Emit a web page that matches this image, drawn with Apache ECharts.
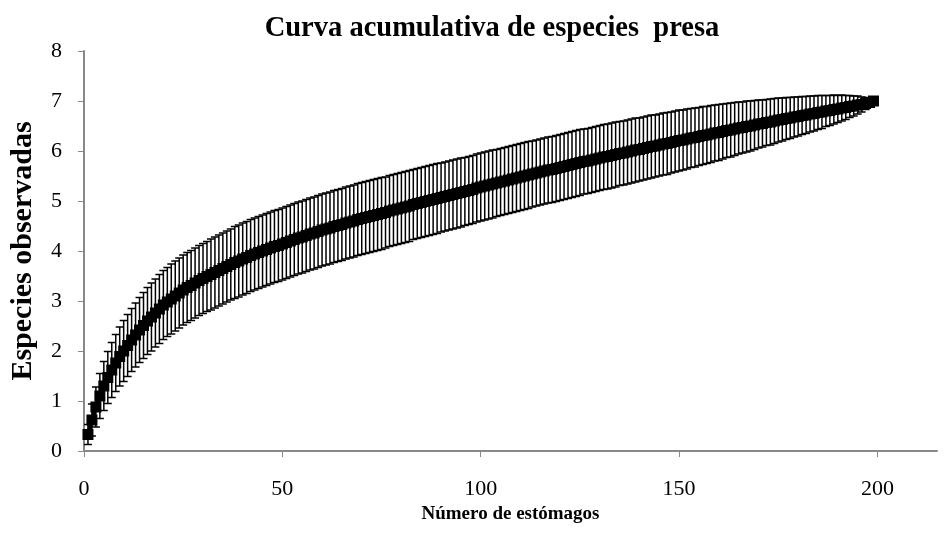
<!DOCTYPE html>
<html>
<head>
<meta charset="utf-8">
<script src="https://cdn.jsdelivr.net/npm/echarts@6/dist/echarts.min.js"></script>
<style>html,body{margin:0;padding:0;background:#fff}#c{width:950px;height:544px}</style>
</head>
<body>
<div id="c"></div>
<script>
// Number of stomachs (x) 1..199
const stomachs = [
  1,2,3,4,5,6,7,8,9,10,11,12,13,14,15,16,17,18,19,20,
  21,22,23,24,25,26,27,28,29,30,31,32,33,34,35,36,37,38,39,40,
  41,42,43,44,45,46,47,48,49,50,51,52,53,54,55,56,57,58,59,60,
  61,62,63,64,65,66,67,68,69,70,71,72,73,74,75,76,77,78,79,80,
  81,82,83,84,85,86,87,88,89,90,91,92,93,94,95,96,97,98,99,100,
  101,102,103,104,105,106,107,108,109,110,111,112,113,114,115,116,117,118,119,120,
  121,122,123,124,125,126,127,128,129,130,131,132,133,134,135,136,137,138,139,140,
  141,142,143,144,145,146,147,148,149,150,151,152,153,154,155,156,157,158,159,160,
  161,162,163,164,165,166,167,168,169,170,171,172,173,174,175,176,177,178,179,180,
  181,182,183,184,185,186,187,188,189,190,191,192,193,194,195,196,197,198,199
];
// Mean observed species
const meanSpecies = [
  0.33,0.62,0.88,1.10,1.30,1.47,1.62,1.76,1.89,2.00,
  2.11,2.22,2.32,2.42,2.51,2.60,2.68,2.76,2.84,2.92,
  2.98,3.04,3.10,3.16,3.22,3.27,3.31,3.36,3.41,3.45,
  3.49,3.53,3.57,3.61,3.65,3.69,3.73,3.77,3.80,3.84,
  3.87,3.91,3.94,3.97,4.00,4.03,4.06,4.09,4.11,4.14,
  4.17,4.20,4.23,4.26,4.28,4.31,4.34,4.36,4.39,4.42,
  4.44,4.46,4.49,4.51,4.53,4.56,4.58,4.60,4.63,4.65,
  4.67,4.69,4.71,4.73,4.75,4.77,4.80,4.82,4.84,4.86,
  4.88,4.90,4.93,4.95,4.97,4.99,5.01,5.03,5.05,5.07,
  5.09,5.11,5.13,5.15,5.17,5.19,5.21,5.23,5.26,5.28,
  5.30,5.32,5.34,5.36,5.38,5.40,5.42,5.44,5.46,5.48,
  5.50,5.52,5.54,5.56,5.58,5.60,5.62,5.63,5.65,5.67,
  5.69,5.71,5.73,5.75,5.77,5.79,5.80,5.82,5.84,5.86,
  5.88,5.89,5.91,5.93,5.95,5.96,5.98,6.00,6.02,6.03,
  6.05,6.07,6.09,6.10,6.12,6.14,6.15,6.17,6.19,6.21,
  6.22,6.24,6.26,6.27,6.29,6.31,6.32,6.34,6.36,6.37,
  6.39,6.41,6.42,6.44,6.46,6.47,6.49,6.50,6.52,6.54,
  6.55,6.57,6.58,6.60,6.62,6.63,6.65,6.66,6.68,6.69,
  6.71,6.72,6.74,6.75,6.77,6.78,6.80,6.81,6.83,6.84,
  6.86,6.87,6.89,6.90,6.92,6.93,6.95,6.97,7.00
];
// Standard deviation (error bar half-length)
const sdSpecies = [
  0.20,0.32,0.40,0.45,0.49,0.52,0.55,0.57,0.59,0.61,
  0.62,0.63,0.64,0.65,0.66,0.67,0.68,0.68,0.69,0.69,
  0.69,0.70,0.70,0.70,0.70,0.70,0.70,0.70,0.70,0.70,
  0.70,0.71,0.71,0.71,0.71,0.71,0.71,0.72,0.72,0.72,
  0.72,0.72,0.72,0.72,0.72,0.72,0.72,0.72,0.72,0.72,
  0.72,0.72,0.72,0.72,0.72,0.72,0.72,0.72,0.72,0.72,
  0.72,0.72,0.72,0.72,0.72,0.72,0.72,0.72,0.72,0.72,
  0.72,0.72,0.72,0.72,0.72,0.71,0.71,0.71,0.71,0.71,
  0.71,0.71,0.70,0.70,0.70,0.70,0.70,0.70,0.70,0.69,
  0.69,0.69,0.69,0.69,0.69,0.68,0.68,0.68,0.68,0.68,
  0.68,0.68,0.68,0.67,0.67,0.67,0.67,0.67,0.67,0.67,
  0.67,0.67,0.66,0.66,0.66,0.66,0.66,0.66,0.66,0.66,
  0.66,0.66,0.66,0.66,0.66,0.65,0.65,0.65,0.65,0.65,
  0.65,0.65,0.65,0.65,0.64,0.64,0.64,0.64,0.64,0.63,
  0.63,0.63,0.63,0.62,0.62,0.62,0.62,0.61,0.61,0.61,
  0.60,0.60,0.59,0.59,0.58,0.58,0.57,0.57,0.56,0.56,
  0.55,0.54,0.54,0.53,0.52,0.51,0.51,0.50,0.49,0.48,
  0.47,0.46,0.46,0.45,0.44,0.43,0.42,0.41,0.40,0.39,
  0.38,0.37,0.36,0.35,0.34,0.33,0.31,0.30,0.29,0.27,
  0.26,0.24,0.22,0.20,0.18,0.15,0.12,0.08,0.00
];
const xTicks = [0, 50, 100, 150, 200];

const titleText = 'Curva acumulativa de especies  presa';
const xName = 'Número de estómagos';
const yName = 'Especies observadas';

const meanData = stomachs.map((x, i) => [x, meanSpecies[i]]);
const errData = stomachs.map((x, i) => [x, meanSpecies[i] - sdSpecies[i], meanSpecies[i] + sdSpecies[i]]);

const serif = '"Liberation Serif", "Times New Roman", serif';
const axisGray = '#888888';

const chart = echarts.init(document.getElementById('c'), null, {renderer: 'canvas'});
chart.setOption({
  animation: false,
  backgroundColor: '#ffffff',
  title: {
    text: titleText,
    left: 487, top: 9, textAlign: 'center',
    textStyle: {fontFamily: serif, fontWeight: 'bold', fontSize: 28.5, color: '#000'}
  },
  grid: {left: 80, right: 13, top: 51, bottom: 93, containLabel: false},
  xAxis: {
    type: 'value', min: 0, max: 215, interval: 50,
    name: xName, nameLocation: 'middle', nameGap: 50,
    nameTextStyle: {fontFamily: serif, fontWeight: 'bold', fontSize: 19, color: '#000'},
    axisLine: {show: true, onZero: false, lineStyle: {color: axisGray, width: 2}},
    axisTick: {show: true, length: 6, inside: false, lineStyle: {color: axisGray, width: 1}, customValues: xTicks},
    axisLabel: {fontFamily: serif, fontSize: 22, color: '#000', margin: 27, customValues: xTicks},
    splitLine: {show: false}
  },
  yAxis: {
    type: 'value', min: 0, max: 8, interval: 1,
    name: yName, nameLocation: 'middle', nameGap: 46, nameRotate: 90,
    nameTextStyle: {fontFamily: serif, fontWeight: 'bold', fontSize: 30, color: '#000'},
    axisLine: {show: true, lineStyle: {color: axisGray, width: 2}},
    axisTick: {show: true, length: 6, inside: false, lineStyle: {color: axisGray, width: 1}},
    axisLabel: {fontFamily: serif, fontSize: 22, color: '#000', margin: 22},
    splitLine: {show: false}
  },
  series: [
    {
      type: 'custom',
      data: errData,
      encode: {x: 0, y: [1, 2]},
      z: 3,
      renderItem: function (params, api) {
        const x = api.value(0), lo = api.value(1), hi = api.value(2);
        const pTop = api.coord([x, hi]);
        const pBot = api.coord([x, lo]);
        const hw = 4;
        const st = {stroke: '#000', lineWidth: 1.5};
        return {
          type: 'group',
          children: [
            {type: 'line', shape: {x1: pTop[0], y1: pTop[1], x2: pBot[0], y2: pBot[1]}, style: st},
            {type: 'line', shape: {x1: pTop[0] - hw, y1: pTop[1], x2: pTop[0] + hw, y2: pTop[1]}, style: st},
            {type: 'line', shape: {x1: pBot[0] - hw, y1: pBot[1], x2: pBot[0] + hw, y2: pBot[1]}, style: st}
          ]
        };
      }
    },
    {
      type: 'line',
      data: meanData,
      z: 4,
      symbol: 'rect',
      symbolSize: 11,
      showAllSymbol: true,
      itemStyle: {color: '#000'},
      lineStyle: {color: '#000', width: 4}
    }
  ]
});
</script>
</body>
</html>
